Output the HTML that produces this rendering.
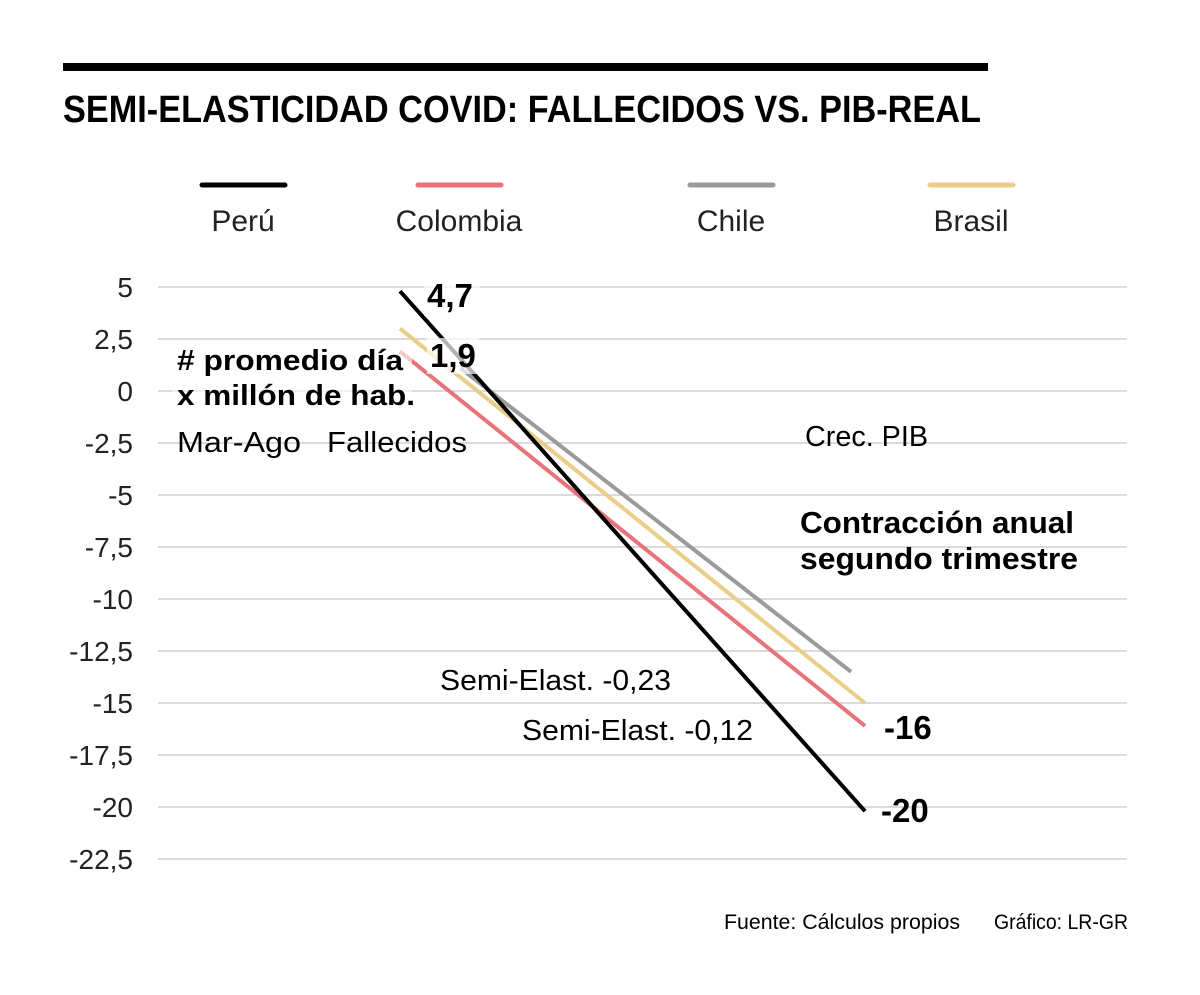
<!DOCTYPE html>
<html><head><meta charset="utf-8"><style>
body{margin:0;background:#fff;}
svg{display:block;font-family:"Liberation Sans",sans-serif;}
</style></head><body>
<svg id="chart" width="1200" height="995" viewBox="0 0 1200 995">
<rect x="63" y="63" width="925" height="8" fill="#000"/>
<text x="63" y="122" font-size="38" font-weight="bold" textLength="918" lengthAdjust="spacingAndGlyphs">SEMI-ELASTICIDAD COVID: FALLECIDOS VS. PIB-REAL</text>
<g id="legend"></g>
<g id="grid"></g>
<g id="series"></g>
<g id="labels">
<rect x="172" y="343" width="240" height="70" fill="#fff" fill-opacity="0.6"/>
<text x="177" y="370" font-size="29" font-weight="bold" textLength="226" lengthAdjust="spacingAndGlyphs"># promedio día</text>
<text x="177" y="405" font-size="29" font-weight="bold" textLength="238" lengthAdjust="spacingAndGlyphs">x millón de hab.</text>
<text x="177" y="452" font-size="29" textLength="124" lengthAdjust="spacingAndGlyphs">Mar-Ago</text>
<text x="327" y="452" font-size="29" textLength="140" lengthAdjust="spacingAndGlyphs">Fallecidos</text>
<text x="805" y="446" font-size="29" textLength="123" lengthAdjust="spacingAndGlyphs">Crec. PIB</text>
<text x="800" y="533" font-size="31" font-weight="bold" textLength="274" lengthAdjust="spacingAndGlyphs">Contracción anual</text>
<text x="800" y="569" font-size="31" font-weight="bold" textLength="278" lengthAdjust="spacingAndGlyphs">segundo trimestre</text>
<text x="440" y="690" font-size="29" textLength="231" lengthAdjust="spacingAndGlyphs">Semi-Elast. -0,23</text>
<text x="522" y="740" font-size="29" textLength="231" lengthAdjust="spacingAndGlyphs">Semi-Elast. -0,12</text>
<rect x="424" y="280" width="56" height="36" fill="#fff" fill-opacity="0.7"/>
<text x="427" y="307" font-size="33" font-weight="bold">4,7</text>
<rect x="427" y="338" width="52" height="36" fill="#fff" fill-opacity="0.7"/>
<text x="430" y="367" font-size="33" font-weight="bold">1,9</text>
<text x="884" y="739" font-size="33" font-weight="bold">-16</text>
<text x="881" y="822" font-size="33" font-weight="bold">-20</text>
<text x="724" y="929" font-size="21" textLength="236" lengthAdjust="spacingAndGlyphs">Fuente: Cálculos propios</text>
<text x="994" y="929" font-size="21" textLength="134" lengthAdjust="spacingAndGlyphs">Gráfico: LR-GR</text>
</g>
</svg>
<script>
const yTicks=[5,2.5,0,-2.5,-5,-7.5,-10,-12.5,-15,-17.5,-20,-22.5];
const tickLabels=["5","2,5","0","-2,5","-5","-7,5","-10","-12,5","-15","-17,5","-20","-22,5"];
const seriesNames=["Perú","Colombia","Chile","Brasil"];
const seriesColors=["#000000","#e8737b","#9b9b9e","#e9cd88"];
const startValues=[4.8,1.9,1.1,3.0];
const endValues=[-20.2,-16.1,-13.5,-15];
const startX=[0,0,0.13,0];
const endX=[1,1,0.97,1];
const legendX=[202,418,690,930];
const legendTextX=[243,459,731,971];
const NS="http://www.w3.org/2000/svg";
function y(v){return 391-v*20.8;}
function x(t){return 400+t*465;}
function mk(tag,attrs,parent){const e=document.createElementNS(NS,tag);for(const k in attrs)e.setAttribute(k,attrs[k]);parent.appendChild(e);return e;}
const grid=document.getElementById('grid');
yTicks.forEach((v,i)=>{
 const l=mk('line',{x1:158,x2:1127,y1:y(v),y2:y(v),stroke:'#cfcfd4','stroke-width':1.5},grid);
 
 
 const t=mk('text',{x:133,y:y(v)+10,'font-size':28,'text-anchor':'end',fill:'#222'},grid);
 t.textContent=tickLabels[i];
 
 
});
const lg=document.getElementById('legend');
seriesNames.forEach((n,i)=>{
 const l=mk('line',{x1:legendX[i],x2:legendX[i]+83,y1:185,y2:185,stroke:seriesColors[i],'stroke-width':5,'stroke-linecap':'round'},lg);
 
 
 const t=mk('text',{x:legendTextX[i],y:231,'font-size':30,'text-anchor':'middle',fill:'#222'},lg);
 t.textContent=n;
 
 
});
const sg=document.getElementById('series');
[2,3,1,0].forEach(i=>{
 const l=mk('line',{x1:x(startX[i]),y1:y(startValues[i]),x2:x(endX[i]),y2:y(endValues[i]),stroke:seriesColors[i],'stroke-width':4},sg);
 
 
});
</script>
</body></html>
